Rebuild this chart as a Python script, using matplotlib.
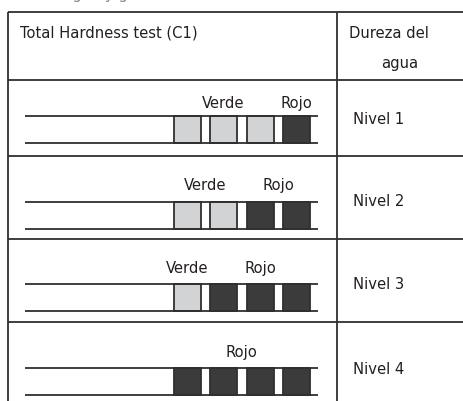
import matplotlib.pyplot as plt
from matplotlib.patches import Rectangle

# table content
header_left = 'Total Hardness test (C1)'
header_right = ['Dureza del', 'agua']
levels = ['Nivel 1', 'Nivel 2', 'Nivel 3', 'Nivel 4']
green_count = [3, 2, 1, 0]   # light pads per level, rest are red
n_pads = 4

light = '#d1d3d4'
dark = '#3b3b3c'
edge = '#2f2f2f'
txt = dict(family='DejaVu Sans', stretch='condensed', fontsize=11.8, color='#231f20',
           va='baseline')

fig = plt.figure(figsize=(4.63, 4.01), dpi=100)
ax = fig.add_axes([0, 0, 1, 1])
ax.set_xlim(0, 463)
ax.set_ylim(401, 0)
ax.axis('off')

# grid of the table
x_left, x_col, x_right = 8, 337, 470
row_tops = [12, 80, 156, 239, 322]
ax.vlines([x_left, x_col], 12, 405, color=edge, lw=1.3)
ax.hlines(row_tops, x_left, x_right, color=edge, lw=1.3)

# line above the table, mostly outside the picture
ax.text(40, -0.5, 'de agua y grifo', ha='left', **{**txt, 'color': '#888888'})

ax.text(20, 38, header_left, **txt)
ax.text(349, 38, header_right[0], **txt)
ax.text(381, 68, header_right[1], **txt)

strip_top = [116, 202, 284, 368]
label_gap = [8, 12, 11, 11]
level_base = [124, 206, 289, 374]
pad_x0, pad_step, pad_w = 173.5, 36.6, 27
line_x0, line_x1 = 25, 318

for i, lvl in enumerate(levels):
    top = strip_top[i]
    bot = top + pad_w
    ax.hlines([top, bot], line_x0, line_x1, color=edge, lw=1.3)
    centers = []
    for k in range(n_pads):
        x = pad_x0 + k * pad_step
        fc = light if k < green_count[i] else dark
        ax.add_patch(Rectangle((x, top), pad_w, pad_w, facecolor=fc,
                               edgecolor=edge, lw=1.3))
        centers.append(x + pad_w / 2)
    g = green_count[i]
    ly = top - label_gap[i]
    if g > 0:
        ax.text(sum(centers[:g]) / g, ly, 'Verde', ha='center', **txt)
    r = centers[g:]
    ax.text(sum(r) / len(r), ly, 'Rojo', ha='center', **txt)
    ax.text(353, level_base[i], lvl, **txt)

fig.savefig('out.png', dpi=100)
